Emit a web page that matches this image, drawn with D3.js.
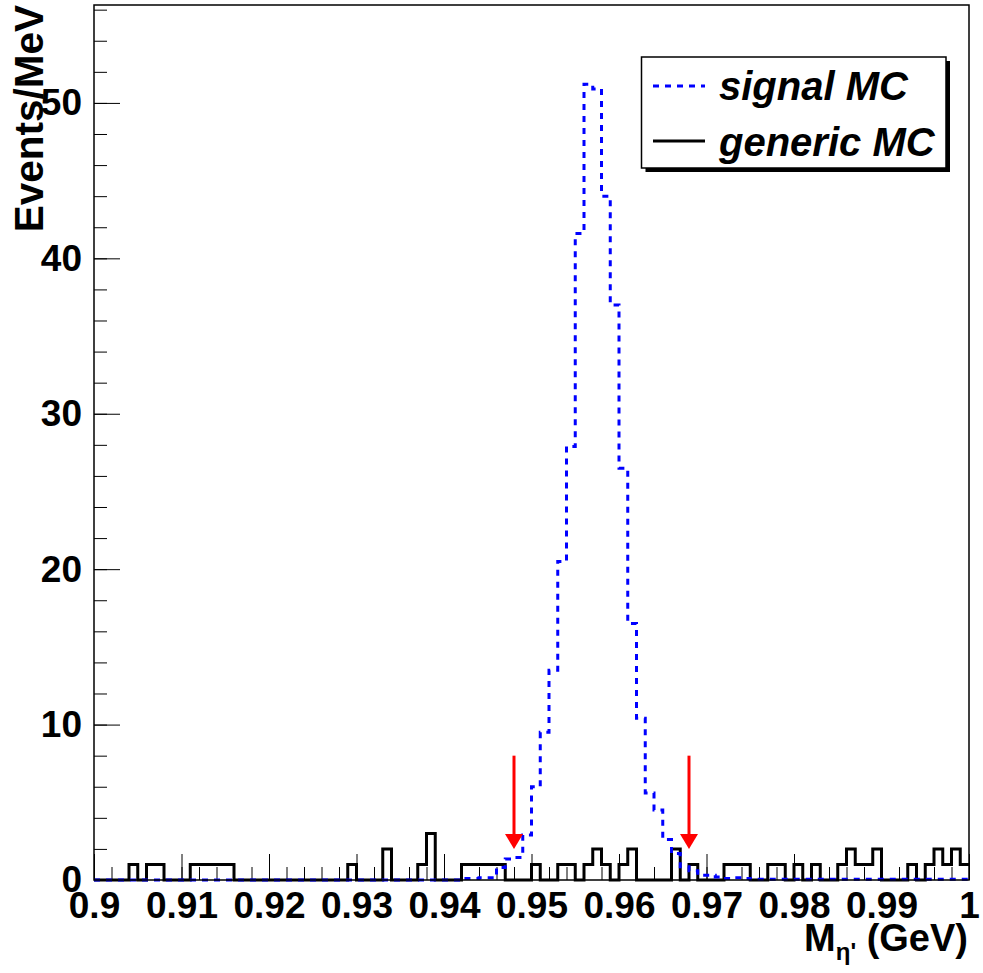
<!DOCTYPE html>
<html>
<head>
<meta charset="utf-8">
<script src="https://cdn.jsdelivr.net/npm/d3@7"></script>
<style>
  html, body { margin: 0; padding: 0; background: #ffffff; }
  svg { display: block; }
</style>
</head>
<body>
<script>
// ---------------- data ----------------
const xMin = 0.9, xMax = 1.0, nBins = 100;
const yMax = 56.3;

// signal MC (blue dashed), events per 1 MeV bin, bins 0..99
const signalMC = [
  0,0,0,0,0,0,0,0,0,0,
  0,0,0,0,0,0,0,0,0,0,
  0,0,0,0,0,0,0,0,0,0,
  0,0,0,0,0,0,0,0,0,0,
  0,0,0.1,0.1,0.15,0.15,0.8,1.35,1.45,2.9,
  6.0,9.5,13.5,20.5,27.9,41.6,51.2,50.9,44.0,37.0,
  26.5,16.5,10.4,5.6,4.5,2.6,1.7,0.85,0.6,0.3,
  0.3,0.2,0.1,0.15,0.1,0.05,0.05,0.05,0.05,0.05,
  0.05,0.05,0.05,0.05,0.05,0.05,0.05,0.05,0.05,0.05,
  0.05,0.05,0.05,0.05,0.05,0.05,0.05,0.05,0.05,0.05
];

// generic MC (black solid), bins 0..99
const genericMC = [
  0,0,0,0,1,0,1,1,0,0,
  0,1,1,1,1,1,0,0,0,0,
  0,0,0,0,0,0,0,0,0,1,
  0,0,0,2,0,0,0,1,3,0,
  0,0,1,1,1,1,1,0,0,0,
  1,0,0,1,1,0,1,2,1,0,
  1,2,0,0,0,0,2,0,1,0,
  0,0,1,1,1,0,0,1,1,0,
  1,0,1,0,0,1,2,1,1,2,
  0,0,0,1,0,1,2,1,2,1
];

const xTickValues = [0.9,0.91,0.92,0.93,0.94,0.95,0.96,0.97,0.98,0.99,1.0];
const xTickLabels = ["0.9","0.91","0.92","0.93","0.94","0.95","0.96","0.97","0.98","0.99","1"];
const yTickValues = [0,10,20,30,40,50];
const yTickLabels = ["0","10","20","30","40","50"];

const legendLabels = ["signal MC","generic MC"];
const cutPositions = [0.948, 0.968];   // red arrows
const arrowFrom = 8, arrowTo = 2;

// ---------------- layout ----------------
const W = 983, H = 973;
const L = 94, R = 969, T = 5, B = 880;
const FONT = "'Liberation Sans', Arial, Helvetica, sans-serif";

const svg = d3.select("body").append("svg").attr("width", W).attr("height", H);

const x = d3.scaleLinear().domain([xMin, xMax]).range([L, R]);
const y = d3.scaleLinear().domain([0, yMax]).range([B, T]);

const binW = (xMax - xMin) / nBins;

function stepPoints(vals) {
  const pts = vals.map((v, i) => [xMin + i * binW, v]);
  pts.push([xMin + nBins * binW, vals[vals.length - 1]]);
  return pts;
}
const stepLine = d3.line().x(d => x(d[0])).y(d => y(d[1])).curve(d3.curveStepAfter);

// ---------------- axes ----------------
const xMinor = d3.range(0, 51).map(i => xMin + i * 0.002);
const yMinor = d3.range(0, 29).map(i => i * 2).filter(v => v <= yMax);

const gxMinor = svg.append("g").attr("transform", `translate(0,${B})`)
  .call(d3.axisBottom(x).tickValues(xMinor).tickSize(-13).tickFormat(""));
const gx = svg.append("g").attr("transform", `translate(0,${B})`)
  .call(d3.axisBottom(x).tickValues(xTickValues).tickSize(-26).tickPadding(12)
    .tickFormat((d, i) => xTickLabels[i]));

const gyMinor = svg.append("g").attr("transform", `translate(${L},0)`)
  .call(d3.axisLeft(y).tickValues(yMinor).tickSize(-13).tickFormat(""));
const gy = svg.append("g").attr("transform", `translate(${L},0)`)
  .call(d3.axisLeft(y).tickValues(yTickValues).tickSize(-26).tickPadding(12)
    .tickFormat((d, i) => yTickLabels[i]));

[gxMinor, gx, gyMinor, gy].forEach(g => {
  g.select(".domain").remove();
  g.selectAll(".tick line").attr("stroke", "#000").attr("stroke-width", 1);
  g.selectAll("text").attr("fill", "#000")
    .style("font-family", FONT).style("font-weight", "bold").style("font-size", "37px");
});

// ---------------- histograms ----------------
svg.append("path")
  .attr("d", stepLine(stepPoints(genericMC)))
  .attr("fill", "none").attr("stroke", "#000").attr("stroke-width", 3)
  .attr("stroke-linejoin", "miter");

svg.append("path")
  .attr("d", stepLine(stepPoints(signalMC)))
  .attr("fill", "none").attr("stroke", "#0000ff").attr("stroke-width", 3)
  .attr("stroke-dasharray", "6,6");

// ---------------- frame ----------------
svg.append("rect")
  .attr("x", L).attr("y", T).attr("width", R - L).attr("height", B - T)
  .attr("fill", "none").attr("stroke", "#000").attr("stroke-width", 1.5);

// ---------------- arrows ----------------
cutPositions.forEach(c => {
  const ax = x(c), y0 = y(arrowFrom), y1 = y(arrowTo);
  const headH = 15, headW = 9;
  svg.append("line").attr("x1", ax).attr("x2", ax).attr("y1", y0).attr("y2", y1 - headH + 1)
    .attr("stroke", "#ff0000").attr("stroke-width", 3);
  svg.append("path")
    .attr("d", `M${ax - headW},${y1 - headH}L${ax + headW},${y1 - headH}L${ax},${y1}Z`)
    .attr("fill", "#ff0000");
});

// ---------------- axis titles ----------------
svg.append("text")
  .attr("transform", `translate(43,${T}) rotate(-90)`)
  .attr("text-anchor", "end")
  .style("font-family", FONT).style("font-weight", "bold").style("font-size", "40.5px")
  .text("Events/MeV");

const xt = svg.append("text")
  .attr("x", R - 1).attr("y", 951)
  .attr("text-anchor", "end")
  .style("font-family", FONT).style("font-weight", "bold").style("font-size", "38px");
xt.append("tspan").text("M");
xt.append("tspan").attr("dy", 9).style("font-size", "24px").text("η'");
xt.append("tspan").attr("dy", -9).text(" (GeV)");

// ---------------- legend ----------------
const lg = { x: 641.5, y: 57, w: 304.5, h: 111 };
svg.append("rect").attr("x", lg.x + 4).attr("y", lg.y + 4).attr("width", lg.w).attr("height", lg.h)
  .attr("fill", "#000");
svg.append("rect").attr("x", lg.x).attr("y", lg.y).attr("width", lg.w).attr("height", lg.h)
  .attr("fill", "#fff").attr("stroke", "#000").attr("stroke-width", 1.5);

const legendRows = [
  { label: legendLabels[0], color: "#0000ff", dash: "6,6", ly: 86, ty: 100 },
  { label: legendLabels[1], color: "#000000", dash: null, ly: 141, ty: 156 }
];
legendRows.forEach(r => {
  const ln = svg.append("line").attr("x1", 653).attr("x2", 705).attr("y1", r.ly).attr("y2", r.ly)
    .attr("stroke", r.color).attr("stroke-width", 3);
  if (r.dash) ln.attr("stroke-dasharray", r.dash);
  svg.append("text").attr("x", 719).attr("y", r.ty)
    .style("font-family", FONT).style("font-weight", "bold").style("font-style", "italic")
    .style("font-size", "40px").text(r.label);
});
</script>
</body>
</html>
